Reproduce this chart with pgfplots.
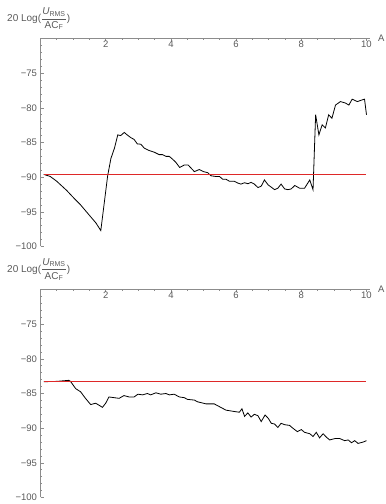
\documentclass[border=0pt]{standalone}
\usepackage{pgfplots}
\pgfplotsset{compat=1.18}
\usepackage{fontspec}
\setmainfont{Liberation Sans}
\definecolor{mred}{RGB}{222,40,40}
\definecolor{axgray}{RGB}{140,140,140}
\definecolor{lblgray}{RGB}{90,90,90}

\pgfplotsset{mstyle/.style={
  scale only axis, width=329.9pt, height=208pt,
  xmin=0, xmax=10.12, ymin=-100, ymax=-70,
  axis x line*=top, axis y line*=left,
  x axis line style={draw=axgray, line width=1pt, opacity=0.999},
  y axis line style={draw=axgray, line width=1pt},
  xtick style={draw=axgray, line width=0.6pt},
  ytick style={draw=axgray, line width=0.6pt},
  tick align=inside,
  major tick length=3pt, minor tick length=1.8pt,
  xtick={2,4,6,8,10}, xticklabels={2,4,6,8,10},
  minor xtick={0.5,1,1.5,2.5,3,3.5,4.5,5,5.5,6.5,7,7.5,8.5,9,9.5},
  ytick={-100,-95,-90,-85,-80,-75},
  yticklabels={−100,−95,−90,−85,−80,−75},
  minor ytick={-99,-98,-97,-96,-94,-93,-92,-91,-89,-88,-87,-86,-84,-83,-82,-81,-79,-78,-77,-76,-74,-73,-72,-71},
  tick label style={font=\fontsize{9.5}{11}\selectfont, text=lblgray},
  xticklabel style={yshift=-13pt},
  clip=false,
}}

\newcommand{\ylab}{20 Log($\displaystyle\frac{\mbox{\fontsize{10}{11}\selectfont\textit{U}\textsubscript{RMS}}}{\mbox{\fontsize{10}{11}\selectfont AC\textsubscript{F}}}$)}

\begin{document}
\begin{tikzpicture}
\useasboundingbox (0,0) rectangle (386pt,504pt);

% axis titles
\node[anchor=west, text=lblgray, font=\fontsize{10}{11}\selectfont, inner sep=0pt] at (7pt,485pt) {\ylab};
\node[anchor=west, text=lblgray, font=\fontsize{10}{11}\selectfont, inner sep=0pt] at (7pt,234.5pt) {\ylab};
\node[anchor=west, text=lblgray, font=\fontsize{9.5}{11}\selectfont, inner sep=0pt] at (378pt,465.5pt) {A};
\node[anchor=west, text=lblgray, font=\fontsize{9.5}{11}\selectfont, inner sep=0pt] at (378pt,214.5pt) {A};

% ---------- top panel ----------
\begin{axis}[mstyle, at={(40.5pt,257.5pt)}, anchor=south west]
\addplot[draw=black, line width=0.8pt] coordinates {
(0.1,-89.6) (0.3,-89.9) (0.5,-90.6) (0.8,-91.9) (1.0,-92.9) (1.23,-94.0)
(1.5,-95.5) (1.7,-96.6) (1.85,-97.7) (2.06,-89.8) (2.16,-87.3) (2.27,-85.8)
(2.37,-83.9) (2.46,-84.0) (2.57,-83.55) (2.67,-83.95) (2.77,-84.3) (2.87,-84.55)
(2.97,-85.2) (3.08,-85.25) (3.18,-85.8) (3.33,-86.15) (3.49,-86.4) (3.64,-86.75)
(3.74,-86.75) (3.85,-87.0) (3.95,-87.0) (4.05,-87.4) (4.15,-87.85) (4.27,-88.6)
(4.41,-88.25) (4.53,-88.25) (4.62,-88.7) (4.72,-89.2) (4.87,-88.9) (5.0,-89.2)
(5.13,-89.35) (5.23,-89.8) (5.38,-89.9) (5.49,-89.9) (5.59,-90.3) (5.69,-90.3)
(5.8,-90.6) (5.95,-90.6) (6.05,-90.85) (6.15,-91.0) (6.26,-90.8) (6.36,-90.95)
(6.46,-90.75) (6.56,-91.0) (6.67,-91.5) (6.77,-91.3) (6.87,-90.4) (6.98,-91.1)
(7.18,-91.8) (7.28,-91.6) (7.38,-91.0) (7.49,-91.7) (7.59,-91.8) (7.69,-91.7)
(7.8,-91.2) (7.95,-91.6) (8.1,-91.6) (8.26,-90.4) (8.36,-91.8) (8.44,-81.0)
(8.54,-83.9) (8.64,-82.45) (8.74,-82.9) (8.84,-81.0) (8.94,-81.5) (9.05,-79.6)
(9.2,-79.1) (9.35,-79.3) (9.46,-79.6) (9.56,-78.75) (9.72,-79.1) (9.87,-78.85)
(9.94,-78.75) (10.0,-81.0)
};
\addplot[draw=mred, line width=1pt] coordinates {(0.1,-89.62) (10,-89.62)};
\end{axis}

% ---------- bottom panel ----------
\begin{axis}[mstyle, at={(40.5pt,6.5pt)}, anchor=south west]
\addplot[draw=black, line width=0.8pt] coordinates {
(0.1,-83.3) (0.5,-83.25) (0.87,-83.1) (0.92,-83.25) (1.08,-84.3) (1.23,-84.75)
(1.38,-85.7) (1.54,-86.6) (1.69,-86.4) (1.8,-86.7) (1.9,-87.0) (2.0,-86.4)
(2.1,-85.5) (2.26,-85.6) (2.41,-85.7) (2.56,-85.3) (2.72,-85.5) (2.87,-85.5)
(2.99,-85.1) (3.13,-85.2) (3.28,-85.0) (3.38,-85.2) (3.54,-84.9) (3.69,-85.1)
(3.85,-85.0) (3.95,-85.2) (4.1,-85.1) (4.26,-85.5) (4.41,-85.6) (4.51,-85.85)
(4.72,-85.95) (4.82,-86.2) (5.08,-86.5) (5.33,-86.5) (5.49,-86.9) (5.69,-87.4)
(5.95,-87.6) (6.1,-87.7) (6.18,-87.2) (6.26,-88.3) (6.36,-87.8) (6.46,-88.4)
(6.56,-88.0) (6.67,-88.2) (6.77,-89.05) (6.89,-88.1) (6.99,-88.6) (7.08,-89.3)
(7.18,-89.4) (7.28,-89.9) (7.38,-89.3) (7.49,-89.5) (7.64,-89.6) (7.74,-90.0)
(7.88,-90.5) (8.0,-90.2) (8.1,-90.6) (8.26,-90.8) (8.36,-91.2) (8.46,-90.6)
(8.56,-91.4) (8.67,-90.8) (8.77,-91.3) (8.87,-91.7) (9.03,-91.5) (9.18,-91.5)
(9.33,-91.8) (9.44,-91.7) (9.54,-92.1) (9.64,-91.8) (9.74,-92.2) (9.9,-92.0)
(10.0,-91.8)
};
\addplot[draw=mred, line width=1pt, opacity=0.999] coordinates {(0.1,-83.27) (10,-83.27)};
\end{axis}
\end{tikzpicture}
\end{document}
